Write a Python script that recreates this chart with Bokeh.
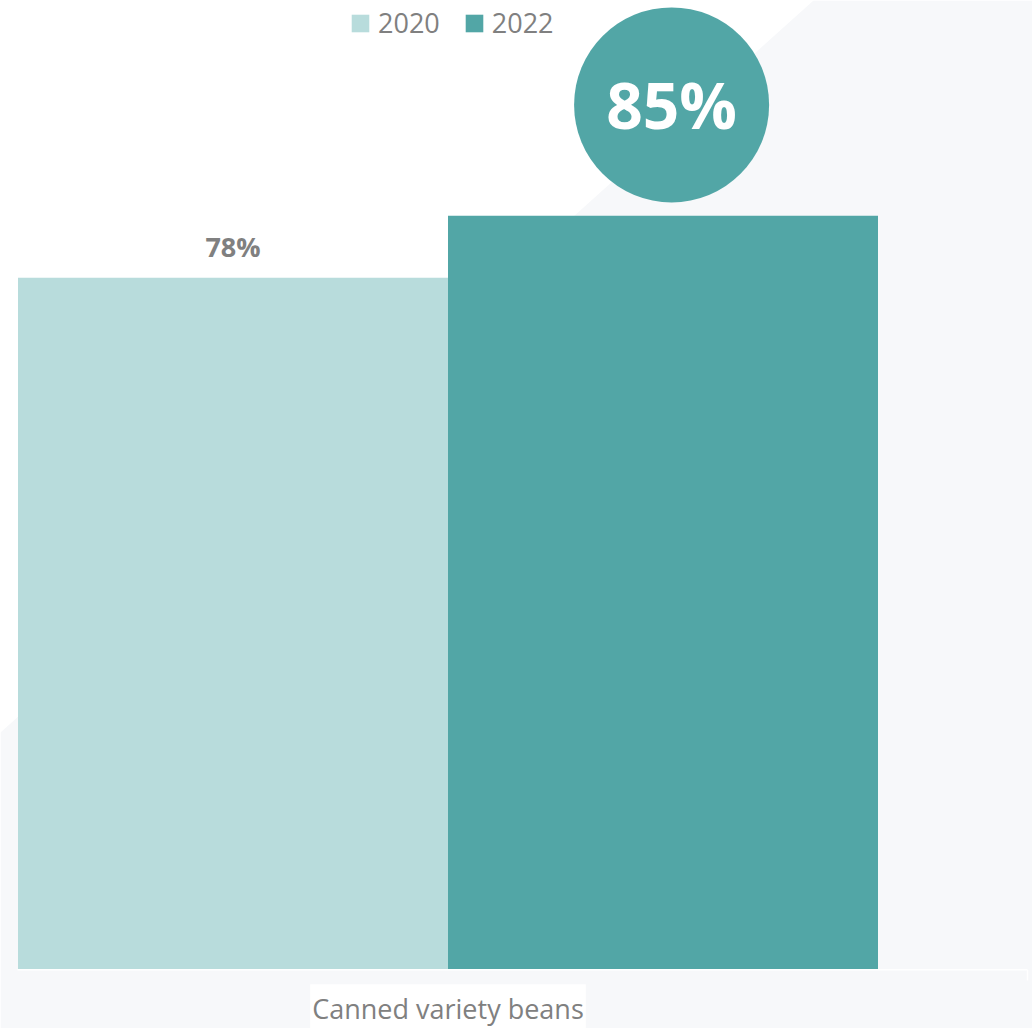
from bokeh.plotting import figure
from bokeh.models import Range1d, Legend, LegendItem, ColumnDataSource
from bokeh.core.properties import value
from bokeh.embed import file_html
from bokeh.resources import INLINE

# ---- data ----
categories = ["Canned variety beans"]
years = ["2020", "2022"]
values_2020 = [78]
values_2022 = [85]
colors = ["#b8dcdc", "#52a6a6"]

# ---- geometry helpers (pixel <-> data) ----
W, H = 1032, 1028
PX_PER_X = 860.0      # pixels per category unit
X0_PX = 447.5         # pixel of category 0 centre
PX_PER_Y = 8.871      # pixels per percentage point
Y0_PX = 969.3         # pixel of value 0

def dx(px):
    return (px - X0_PX) / PX_PER_X

def dy(py):
    return (Y0_PX - py) / PX_PER_Y

p = figure(width=W, height=H, output_backend="svg", toolbar_location=None,
           x_range=Range1d(dx(0), dx(W)), y_range=Range1d(dy(H), dy(0)),
           min_border=0, outline_line_color=None,
           background_fill_color="white", border_fill_color="white")
p.axis.visible = False
p.grid.visible = False

# decorative background diagonal
p.patch([dx(813), dx(W), dx(W), dx(0), dx(0)],
        [dy(0), dy(0), dy(H), dy(H), dy(732)],
        fill_color="#f7f8fa", line_color=None)

xs = list(range(len(categories)))
bw = 0.5
src20 = ColumnDataSource(dict(x=[x - bw / 2 for x in xs], top=values_2020,
                              lab=[f"{v}%" for v in values_2020]))
src22 = ColumnDataSource(dict(x=[x + bw / 2 for x in xs], top=values_2022,
                              lab=[f"{v}%" for v in values_2022]))

r20 = p.vbar(x="x", top="top", bottom=0, width=bw, source=src20,
             fill_color=colors[0], line_color=None)
r22 = p.vbar(x="x", top="top", bottom=0, width=bw, source=src22,
             fill_color=colors[1], line_color=None)

# baseline (faint white axis line)
p.segment(x0=[dx(17), dx(1027)], y0=[0, 0], x1=[dx(1027), dx(1027)], y1=[0, dy(980)],
          line_color="white", line_width=1.5)

# value label 2020
p.text(x="x", y="top", text="lab", source=src20, text_align="center",
       text_baseline="middle", y_offset=-31, text_font=value("Open Sans"),
       text_font_style="bold", text_font_size="27px", text_color="#808080")

# highlighted bubble for 2022
bub = ColumnDataSource(dict(x=[x + bw / 2 + 0.01 for x in xs],
                            y=[v + 12.5 for v in values_2022],
                            lab=[f"{v}%" for v in values_2022]))
p.circle(x="x", y="y", radius=97.5, radius_units="screen", source=bub,
         fill_color=colors[1], line_color=None)
p.text(x="x", y="y", text="lab", source=bub, text_align="center",
       text_baseline="middle", text_font=value("Open Sans"),
       text_font_style="bold", text_font_size="64px", text_color="white")

# category label
p.text(x=xs, y=[0] * len(xs), text=categories, text_align="center",
       text_baseline="middle", y_offset=39, text_font=value("Open Sans"),
       text_font_size="27px", text_color="#808080",
       background_fill_color="white", padding=[2, 6])

legend = Legend(items=[LegendItem(label=years[0], renderers=[r20]),
                       LegendItem(label=years[1], renderers=[r22])],
                orientation="horizontal", location=(349, 987),
                glyph_width=22, glyph_height=22, label_standoff=7, spacing=23,
                padding=0, margin=0, label_text_font="Open Sans",
                label_text_font_size="27px", label_text_color="#808080",
                background_fill_alpha=0, border_line_alpha=0)
p.add_layout(legend)

open("out.html", "w").write(file_html(p, INLINE))
